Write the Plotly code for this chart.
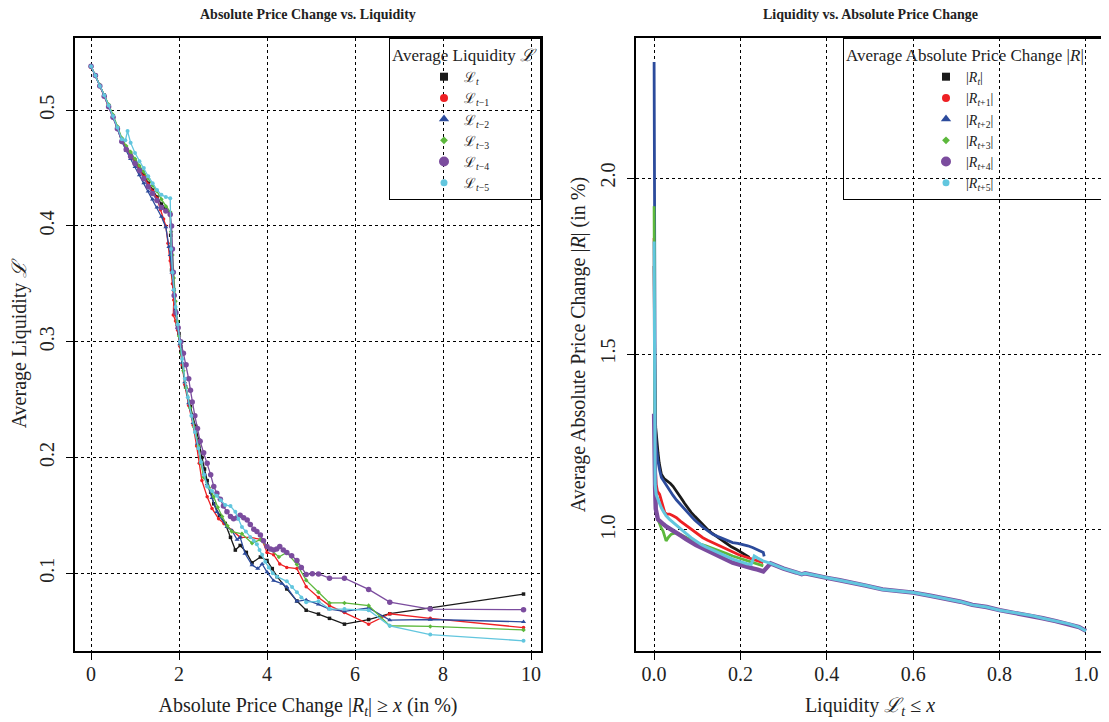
import plotly.graph_objects as go

# ---------------- Left panel: Average Liquidity vs |R_t| >= x ----------------
L0_X = [0, 0.1, 0.2, 0.3, 0.4, 0.5, 0.6, 0.7, 0.8, 0.9, 1.0, 1.1, 1.2, 1.3, 1.4, 1.5, 1.6, 1.7, 1.8,
        1.81, 1.83, 1.88, 1.92, 1.96, 2.0, 2.04, 2.08, 2.15, 2.26, 2.38, 2.45, 2.52, 2.58, 2.64, 2.72,
        2.79, 2.92, 3.05, 3.17, 3.28, 3.39, 3.53, 3.66, 3.85, 4.0, 4.12, 4.23, 4.45, 4.68, 4.89, 5.17,
        5.42, 5.76, 6.31, 6.79, 7.71, 9.83]
L0_Y = [0.538, 0.530, 0.521, 0.513, 0.504, 0.495, 0.485, 0.474, 0.467, 0.462, 0.456, 0.450, 0.444, 0.437,
        0.431, 0.425, 0.419, 0.415, 0.411, 0.392, 0.362, 0.345, 0.325, 0.315, 0.307, 0.296, 0.278, 0.261,
        0.244, 0.227, 0.215, 0.200, 0.190, 0.180, 0.170, 0.160, 0.150, 0.143, 0.131, 0.120, 0.124, 0.118,
        0.109, 0.114, 0.111, 0.104, 0.097, 0.0864, 0.076, 0.068, 0.0647, 0.061, 0.056, 0.060, 0.065,
        0.070, 0.082]

L1_X = [0, 0.1, 0.2, 0.3, 0.4, 0.5, 0.6, 0.7, 0.8, 0.9, 1.0, 1.1, 1.2, 1.3, 1.4, 1.5, 1.58, 1.65, 1.7,
        1.75, 1.8, 1.85, 1.88, 1.87, 1.92, 1.97, 2.02, 2.07, 2.13, 2.22, 2.32, 2.4, 2.46, 2.52, 2.64, 2.75,
        2.9, 3.02, 3.2, 3.39, 3.62, 3.89, 4.0, 4.15, 4.29, 4.45, 4.68, 4.89, 5.17, 5.42, 5.76, 6.31, 6.79,
        7.71, 9.83]
L1_Y = [0.537, 0.530, 0.521, 0.512, 0.504, 0.495, 0.485, 0.475, 0.467, 0.461, 0.455, 0.449, 0.443, 0.436,
        0.430, 0.424, 0.414, 0.406, 0.400, 0.385, 0.370, 0.350, 0.336, 0.323, 0.318, 0.310, 0.296, 0.280,
        0.263, 0.245, 0.228, 0.210, 0.195, 0.180, 0.166, 0.156, 0.147, 0.143, 0.137, 0.131, 0.131, 0.129,
        0.118, 0.116, 0.108, 0.105, 0.104, 0.0884, 0.079, 0.072, 0.066, 0.056, 0.065, 0.061, 0.053]

L2_X = [0, 0.1, 0.2, 0.3, 0.4, 0.5, 0.6, 0.7, 0.8, 0.9, 1.0, 1.1, 1.2, 1.3, 1.4, 1.5, 1.6, 1.7, 1.77,
        1.8, 1.84, 1.88, 1.92, 1.97, 2.02, 2.07, 2.13, 2.22, 2.32, 2.42, 2.5, 2.57, 2.64, 2.75, 2.86, 3.09,
        3.2, 3.32, 3.39, 3.5, 3.66, 3.79, 3.89, 4.0, 4.15, 4.34, 4.45, 4.68, 4.89, 5.17, 5.42, 5.76, 6.31,
        6.79, 7.71, 9.83]
L2_Y = [0.538, 0.530, 0.521, 0.513, 0.504, 0.495, 0.484, 0.473, 0.465, 0.458, 0.451, 0.444, 0.437, 0.430,
        0.423, 0.416, 0.408, 0.399, 0.382, 0.375, 0.360, 0.345, 0.328, 0.312, 0.298, 0.282, 0.265, 0.247,
        0.230, 0.212, 0.196, 0.186, 0.177, 0.165, 0.153, 0.140, 0.137, 0.129, 0.131, 0.117, 0.107, 0.104,
        0.108, 0.101, 0.0936, 0.091, 0.088, 0.0757, 0.0769, 0.073, 0.069, 0.067, 0.070, 0.0595, 0.060,
        0.058]

L3_X = [0, 0.1, 0.2, 0.3, 0.4, 0.5, 0.6, 0.7, 0.8, 0.9, 1.0, 1.1, 1.2, 1.3, 1.4, 1.5, 1.6, 1.7, 1.8,
        1.82, 1.85, 1.88, 1.92, 1.96, 2.0, 2.05, 2.1, 2.16, 2.25, 2.35, 2.44, 2.5, 2.56, 2.68, 2.79, 2.88,
        2.98, 3.1, 3.2, 3.43, 3.66, 3.85, 4.0, 4.27, 4.45, 4.68, 4.89, 5.17, 5.42, 5.76, 6.31, 6.79, 7.71,
        9.83]
L3_Y = [0.538, 0.530, 0.522, 0.513, 0.505, 0.496, 0.486, 0.476, 0.469, 0.464, 0.458, 0.452, 0.447, 0.441,
        0.435, 0.430, 0.423, 0.417, 0.412, 0.395, 0.375, 0.355, 0.335, 0.318, 0.305, 0.290, 0.275, 0.260,
        0.243, 0.226, 0.210, 0.195, 0.183, 0.174, 0.166, 0.157, 0.149, 0.141, 0.136, 0.134, 0.126, 0.129,
        0.123, 0.114, 0.118, 0.1075, 0.094, 0.0835, 0.0743, 0.0743, 0.072, 0.0546, 0.054, 0.051]

L4_X = [0, 0.1, 0.2, 0.3, 0.4, 0.5, 0.6, 0.7, 0.8, 0.9, 1.0, 1.1, 1.2, 1.3, 1.4, 1.5, 1.6, 1.7, 1.8,
        1.83, 1.85, 1.87, 1.89, 1.93, 1.98, 2.04, 2.1, 2.16, 2.22, 2.26, 2.3, 2.36, 2.42, 2.48, 2.56, 2.64,
        2.72, 2.79, 2.86, 2.94, 3.01, 3.09, 3.17, 3.24, 3.32, 3.39, 3.47, 3.55, 3.62, 3.7, 3.77, 3.85,
        3.92, 4.0, 4.08, 4.15, 4.22, 4.29, 4.37, 4.45, 4.56, 4.68, 4.78, 4.89, 5.03, 5.17, 5.42, 5.76,
        6.31, 6.79, 7.71, 9.83]
L4_Y = [0.538, 0.530, 0.521, 0.512, 0.503, 0.494, 0.484, 0.473, 0.466, 0.460, 0.454, 0.448, 0.441, 0.434,
        0.428, 0.422, 0.416, 0.413, 0.410, 0.400, 0.380, 0.360, 0.340, 0.325, 0.312, 0.300, 0.290, 0.280,
        0.268, 0.258, 0.248, 0.236, 0.225, 0.214, 0.204, 0.195, 0.185, 0.175, 0.169, 0.164, 0.158, 0.153,
        0.149, 0.147, 0.148, 0.150, 0.148, 0.146, 0.142, 0.138, 0.136, 0.133, 0.128, 0.123, 0.121, 0.120,
        0.121, 0.123, 0.120, 0.118, 0.115, 0.111, 0.105, 0.099, 0.0995, 0.0994, 0.0957, 0.0957, 0.086,
        0.075, 0.069, 0.0685]

L5_X = [0, 0.1, 0.2, 0.3, 0.4, 0.5, 0.6, 0.7, 0.78, 0.83, 0.9, 1.0, 1.1, 1.2, 1.3, 1.4, 1.5, 1.6, 1.7,
        1.8, 1.82, 1.85, 1.88, 1.92, 1.97, 2.02, 2.07, 2.13, 2.2, 2.28, 2.36, 2.44, 2.5, 2.57, 2.64, 2.75,
        2.86, 2.95, 3.05, 3.17, 3.28, 3.35, 3.43, 3.52, 3.62, 3.7, 3.77, 3.83, 3.89, 3.96, 4.04, 4.13,
        4.23, 4.45, 4.57, 4.68, 4.78, 4.89, 5.17, 5.42, 5.76, 6.31, 6.79, 7.71, 9.83]
L5_Y = [0.538, 0.530, 0.521, 0.513, 0.504, 0.495, 0.485, 0.475, 0.474, 0.482, 0.472, 0.463, 0.456, 0.450,
        0.443, 0.437, 0.431, 0.427, 0.425, 0.424, 0.380, 0.360, 0.345, 0.330, 0.315, 0.300, 0.285, 0.268,
        0.252, 0.236, 0.222, 0.208, 0.196, 0.185, 0.175, 0.171, 0.167, 0.163, 0.159, 0.158, 0.153, 0.147,
        0.140, 0.136, 0.131, 0.128, 0.125, 0.120, 0.116, 0.110, 0.105, 0.100, 0.097, 0.093, 0.088, 0.0835,
        0.079, 0.075, 0.0757, 0.069, 0.069, 0.068, 0.0546, 0.047, 0.0416]

# ---------------- Right panel: Average |R| vs Liquidity <= x ----------------
R0_X = [0.0002, 0.0008, 0.0015, 0.0025, 0.004, 0.0054, 0.0075, 0.0092, 0.012, 0.017, 0.024, 0.032,
        0.038, 0.044, 0.05, 0.055, 0.063, 0.071, 0.078, 0.086, 0.095, 0.105, 0.115, 0.125, 0.135, 0.144,
        0.155, 0.167, 0.178, 0.19, 0.2, 0.209, 0.215, 0.221]
R0_Y = [1.75, 1.55, 1.42, 1.33, 1.29, 1.262, 1.24, 1.22, 1.19, 1.158, 1.145, 1.139, 1.132, 1.124, 1.114,
        1.104, 1.09, 1.075, 1.062, 1.05, 1.038, 1.025, 1.012, 1.0, 0.99, 0.982, 0.972, 0.962, 0.953,
        0.945, 0.938, 0.932, 0.927, 0.922]

R1_X = [0.0002, 0.0008, 0.0015, 0.003, 0.005, 0.008, 0.013, 0.019, 0.025, 0.03, 0.036, 0.044, 0.052,
        0.061, 0.071, 0.08, 0.09, 0.101, 0.113, 0.124, 0.136, 0.147, 0.159, 0.17, 0.182, 0.194, 0.205,
        0.217, 0.228, 0.24, 0.253]
R1_Y = [1.83, 1.45, 1.28, 1.18, 1.13, 1.11, 1.101, 1.075, 1.049, 1.045, 1.045, 1.04, 1.035, 1.025,
        1.016, 1.006, 0.997, 0.988, 0.978, 0.971, 0.964, 0.957, 0.95, 0.943, 0.936, 0.931, 0.926, 0.921,
        0.917, 0.912, 0.907]

R2_X = [0.0002, 0.0006, 0.001, 0.0018, 0.003, 0.005, 0.0075, 0.0092, 0.013, 0.017, 0.022, 0.028, 0.036,
        0.044, 0.052, 0.059, 0.067, 0.075, 0.085, 0.094, 0.103, 0.113, 0.124, 0.136, 0.148, 0.159, 0.17,
        0.182, 0.194, 0.205, 0.217, 0.228, 0.24, 0.253, 0.255]
R2_Y = [2.33, 1.95, 1.62, 1.42, 1.3, 1.24, 1.21, 1.196, 1.17, 1.149, 1.14, 1.128, 1.112, 1.098, 1.085,
        1.075, 1.063, 1.052, 1.04, 1.028, 1.018, 1.008, 0.998, 0.988, 0.981, 0.975, 0.969, 0.964, 0.962,
        0.959, 0.955, 0.95, 0.943, 0.936, 0.925]

R3_X = [0.0002, 0.0007, 0.0013, 0.0025, 0.004, 0.0054, 0.009, 0.013, 0.017, 0.021, 0.025, 0.028, 0.034,
        0.04, 0.046, 0.052, 0.06, 0.067, 0.076, 0.086, 0.097, 0.109, 0.12, 0.132, 0.143, 0.155, 0.168,
        0.182, 0.194, 0.205, 0.217, 0.228, 0.24, 0.253]
R3_Y = [1.92, 1.6, 1.35, 1.17, 1.08, 1.045, 1.03, 1.016, 1.005, 0.997, 0.98, 0.969, 0.98, 0.988, 0.99,
        0.992, 0.988, 0.983, 0.978, 0.973, 0.966, 0.959, 0.955, 0.95, 0.945, 0.94, 0.933, 0.926, 0.921,
        0.917, 0.912, 0.907, 0.903, 0.898]

R4_X = [0.0002, 0.0006, 0.0015, 0.0025, 0.004, 0.006, 0.009, 0.013, 0.017, 0.022, 0.028, 0.036, 0.044,
        0.053, 0.063, 0.074, 0.086, 0.097, 0.109, 0.12, 0.132, 0.143, 0.155, 0.168, 0.182, 0.194, 0.205,
        0.217, 0.228, 0.24, 0.253]
R4_Y = [1.33, 1.24, 1.16, 1.12, 1.06, 1.04, 1.03, 1.026, 1.02, 1.016, 1.01, 1.003, 0.997, 0.99, 0.983,
        0.974, 0.964, 0.957, 0.95, 0.943, 0.936, 0.93, 0.923, 0.915, 0.907, 0.902, 0.898, 0.895, 0.891,
        0.887, 0.882]

R5_X = [0.0002, 0.0006, 0.0012, 0.0025, 0.005, 0.009, 0.013, 0.017, 0.022, 0.028, 0.036, 0.044, 0.053,
        0.063, 0.074, 0.086, 0.097, 0.109, 0.12, 0.132, 0.143, 0.155, 0.168, 0.182, 0.194, 0.205, 0.215,
        0.225, 0.232, 0.24, 0.252]
R5_Y = [1.82, 1.5, 1.25, 1.13, 1.1, 1.087, 1.075, 1.063, 1.052, 1.04, 1.03, 1.021, 1.012, 1.002, 0.99,
        0.978, 0.968, 0.959, 0.952, 0.945, 0.938, 0.931, 0.924, 0.917, 0.912, 0.907, 0.904, 0.902, 0.926,
        0.92, 0.912]

# common tail followed by the last two series up to liquidity 1.0
TAIL_X = [0.27, 0.3, 0.33, 0.342, 0.35, 0.38, 0.4, 0.43, 0.452, 0.49, 0.529, 0.56, 0.6, 0.64, 0.683,
          0.71, 0.737, 0.77, 0.8, 0.84, 0.876, 0.9, 0.93, 0.96, 0.984, 1.0]
TAIL_Y = [0.905, 0.89, 0.879, 0.874, 0.877, 0.868, 0.864, 0.857, 0.852, 0.842, 0.831, 0.827, 0.822,
          0.813, 0.803, 0.796, 0.787, 0.781, 0.772, 0.764, 0.756, 0.749, 0.741, 0.733, 0.724, 0.713]

LEFT_NAMES = ["ℒ<sub><i>t</i></sub>", "ℒ<sub><i>t</i>−1</sub>", "ℒ<sub><i>t</i>−2</sub>",
              "ℒ<sub><i>t</i>−3</sub>", "ℒ<sub><i>t</i>−4</sub>", "ℒ<sub><i>t</i>−5</sub>"]
RIGHT_NAMES = ["|<i>R</i><sub><i>t</i></sub>|", "|<i>R</i><sub><i>t</i>+1</sub>|",
               "|<i>R</i><sub><i>t</i>+2</sub>|", "|<i>R</i><sub><i>t</i>+3</sub>|",
               "|<i>R</i><sub><i>t</i>+4</sub>|", "|<i>R</i><sub><i>t</i>+5</sub>|"]

COLORS = ["#1a1a1a", "#ee2024", "#2c4b9c", "#5cb83c", "#7b4c9e", "#62c6de"]
SYMBOLS = ["square", "circle", "triangle-up", "diamond", "circle", "circle"]
MSIZE_LINE = [3.5, 3.5, 4.5, 3.5, 5.5, 4]
MSIZE_LEG = [8, 8, 9, 6, 10, 7]

left_data = [(L0_X, L0_Y), (L1_X, L1_Y), (L2_X, L2_Y), (L3_X, L3_Y), (L4_X, L4_Y), (L5_X, L5_Y)]
right_data = [(R0_X, R0_Y), (R1_X, R1_Y), (R2_X, R2_Y), (R3_X, R3_Y),
              (R4_X + TAIL_X, R4_Y + TAIL_Y), (R5_X + TAIL_X, R5_Y + TAIL_Y)]
RIGHT_WIDTH = [2.8, 2.8, 2.8, 2.8, 4.4, 3.0]

FONT = "Liberation Serif, DejaVu Serif, serif"
TXT = "#222"

fig = go.Figure()

for i, (xs, ys) in enumerate(left_data):
    fig.add_trace(go.Scatter(
        x=xs, y=ys, mode="lines+markers", showlegend=False, xaxis="x", yaxis="y",
        line=dict(color=COLORS[i], width=1.3),
        marker=dict(symbol=SYMBOLS[i], size=MSIZE_LINE[i], color=COLORS[i], line=dict(width=0)),
        hoverinfo="skip"))

for i, (xs, ys) in enumerate(right_data):
    fig.add_trace(go.Scatter(
        x=xs, y=ys, mode="lines", showlegend=False, xaxis="x2", yaxis="y2",
        line=dict(color=COLORS[i], width=RIGHT_WIDTH[i]), hoverinfo="skip"))

# legend entries
for i in range(6):
    fig.add_trace(go.Scatter(
        x=[None], y=[None], mode="markers", name=LEFT_NAMES[i], legend="legend",
        xaxis="x", yaxis="y",
        marker=dict(symbol=SYMBOLS[i], size=MSIZE_LEG[i], color=COLORS[i], line=dict(width=0))))
for i in range(6):
    fig.add_trace(go.Scatter(
        x=[None], y=[None], mode="markers", name=RIGHT_NAMES[i], legend="legend2",
        xaxis="x2", yaxis="y2",
        marker=dict(symbol=SYMBOLS[i], size=MSIZE_LEG[i], color=COLORS[i], line=dict(width=0))))

# page has an 8px body margin, so figure coordinates are page coordinates minus 8
OFF = 8
W, H = 1109 - OFF, 722 - OFF
LX0, LX1, RX0, RX1 = 75 - OFF, 541 - OFF, 636 - OFF, 1104 - OFF
YT, YB = 38 - OFF, 651 - OFF
TITLE_Y = 15 - OFF

axis_common = dict(
    showline=True, mirror=True, linecolor="black", linewidth=1.5,
    ticks="outside", ticklen=7, tickwidth=1, tickcolor="black",
    showgrid=True, gridcolor="black", gridwidth=1, griddash="dot",
    zeroline=False, automargin=False,
    tickfont=dict(family=FONT, size=20, color=TXT),
    title_font=dict(family=FONT, size=20, color=TXT),
)

fig.update_layout(
    width=W, height=H,
    margin=dict(l=0, r=0, t=0, b=0),
    paper_bgcolor="white", plot_bgcolor="white",
    font=dict(family=FONT, color=TXT),
    xaxis=dict(domain=[LX0 / W, LX1 / W], range=[-0.364, 10.227], dtick=2, tick0=0,
               ticklabelstandoff=-3,
               title=dict(text="Absolute Price Change |<i>R<sub>t</sub></i>| ≥ <i>x</i> (in %)", standoff=14),
               anchor="y", **axis_common),
    yaxis=dict(domain=[1 - YB / H, 1 - YT / H], range=[0.0328, 0.5624], dtick=0.1, tick0=0,
               tickangle=-90, tickformat=".1f", ticklabelstandoff=4,
               title=dict(text="Average Liquidity <i>ℒ</i>", standoff=12),
               anchor="x", **axis_common),
    xaxis2=dict(domain=[RX0 / W, RX1 / W], range=[-0.0417, 1.0417], dtick=0.2, tick0=0,
                tickformat=".1f", ticklabelstandoff=-3,
                title=dict(text="Liquidity <i>ℒ<sub>t</sub></i> ≤ <i>x</i>", standoff=14),
                anchor="y2", **axis_common),
    yaxis2=dict(domain=[1 - YB / H, 1 - YT / H], range=[0.656, 2.398], dtick=0.5, tick0=0,
                tickangle=-90, tickformat=".1f", ticklabelstandoff=4,
                title=dict(text="Average Absolute Price Change |<i>R</i>| (in %)", standoff=6),
                anchor="x2", **axis_common),
    legend=dict(x=LX1 / W, xanchor="right", y=1 - YT / H, yanchor="top",
                bgcolor="rgba(0,0,0,0)", bordercolor="black", borderwidth=1,
                font=dict(family=FONT, size=14, color=TXT),
                title=dict(text="Average Liquidity <i>ℒ</i>", font=dict(family=FONT, size=17, color=TXT)),
                tracegroupgap=0, itemsizing="trace", indentation=34),
    legend2=dict(x=RX1 / W, xanchor="right", y=1 - YT / H, yanchor="top",
                 bgcolor="rgba(0,0,0,0)", bordercolor="black", borderwidth=1,
                 font=dict(family=FONT, size=14, color=TXT),
                 title=dict(text="Average Absolute Price Change |<i>R</i>|&nbsp;&nbsp;&nbsp;&nbsp;",
                            font=dict(family=FONT, size=17, color=TXT)),
                 tracegroupgap=0, itemsizing="trace", indentation=82),
    annotations=[
        dict(text="<b>Absolute Price Change vs. Liquidity</b>", x=(LX0 + LX1) / 2 / W, y=1 - TITLE_Y / H,
             xref="paper", yref="paper", showarrow=False, xanchor="center", yanchor="middle",
             font=dict(family=FONT, size=14, color=TXT)),
        dict(text="<b>Liquidity vs. Absolute Price Change</b>", x=(RX0 + RX1) / 2 / W, y=1 - TITLE_Y / H,
             xref="paper", yref="paper", showarrow=False, xanchor="center", yanchor="middle",
             font=dict(family=FONT, size=14, color=TXT)),
    ],
)

fig.write_html("out.html")
